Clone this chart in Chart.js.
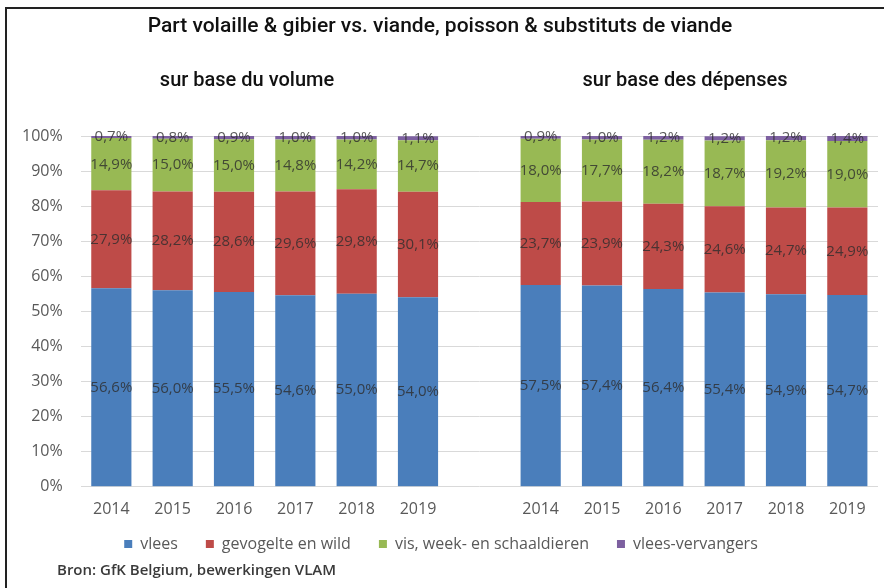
<!DOCTYPE html>
<html>
<head>
<meta charset="utf-8">
<script src="https://cdn.jsdelivr.net/npm/chart.js@4/dist/chart.umd.min.js"></script>
<style>
  html, body { margin: 0; padding: 0; background: #fff; }
  #wrap { position: relative; width: 884px; height: 588px; }
  #frame { position: absolute; left: 5px; top: 7px; right: 0; bottom: 0;
           border-top: 2px solid #222; border-left: 2px solid #222; pointer-events: none; }
  canvas { position: absolute; left: 0; top: 0; }
</style>
</head>
<body>
<div id="wrap">
  <canvas id="c" width="884" height="588"></canvas>
  <div id="frame"></div>
</div>
<script>
// ---- data ----
const categories = ['2014','2015','2016','2017','2018','2019','','2014','2015','2016','2017','2018','2019'];
const seriesNames = ['vlees', 'gevogelte en wild', 'vis, week- en schaaldieren', 'vlees-vervangers'];
const vlees       = [56.6, 56.0, 55.5, 54.6, 55.0, 54.0, null, 57.5, 57.4, 56.4, 55.4, 54.9, 54.7];
const gevogelte   = [27.9, 28.2, 28.6, 29.6, 29.8, 30.1, null, 23.7, 23.9, 24.3, 24.6, 24.7, 24.9];
const vis         = [14.9, 15.0, 15.0, 14.8, 14.2, 14.7, null, 18.0, 17.7, 18.2, 18.7, 19.2, 19.0];
const vervangers  = [0.7, 0.8, 0.9, 1.0, 1.0, 1.1, null, 0.9, 1.0, 1.2, 1.2, 1.2, 1.4];
const yTicks = [0, 10, 20, 30, 40, 50, 60, 70, 80, 90, 100];
const titleText = 'Part volaille & gibier vs. viande, poisson & substituts de viande';
const subtitleLeft = 'sur base du volume';
const subtitleRight = 'sur base des dépenses';
const sourceText = 'Bron: GfK Belgium, bewerkingen VLAM';

const colors = ['#4a7ebb', '#be4b48', '#98b954', '#7d60a0'];
const seriesData = [vlees, gevogelte, vis, vervangers];

const FONT = '"Open Sans", "DejaVu Sans", sans-serif';

const labelPlugin = {
  id: 'segLabels',
  afterDatasetsDraw(chart) {
    const ctx = chart.ctx;
    ctx.save();
    ctx.font = '15px ' + FONT;
    ctx.textAlign = 'center';
    ctx.textBaseline = 'middle';
    ctx.fillStyle = 'rgba(45,45,45,0.8)';
    chart.data.datasets.forEach((ds, di) => {
      const meta = chart.getDatasetMeta(di);
      meta.data.forEach((el, i) => {
        const v = ds.data[i];
        if (v === null || v === undefined) return;
        const y = (el.y + el.base) / 2;
        ctx.fillText(v.toFixed(1).replace('.', ',') + '%', el.x, y);
      });
    });
    ctx.restore();
  }
};

const legendShift = {
  id: 'legendShift',
  afterLayout(chart) {
    if (chart.legend) {
      chart.legend.top -= 16;
      chart.legend.bottom -= 16;
    }
  }
};

const textPlugin = {
  id: 'texts',
  afterDraw(chart) {
    const ctx = chart.ctx;
    ctx.save();
    ctx.fillStyle = '#111';
    ctx.textBaseline = 'middle';
    ctx.textAlign = 'center';
    ctx.font = '500 21px Roboto, sans-serif';
    ctx.fillText(titleText, 440, 27);
    ctx.font = '500 20px Roboto, sans-serif';
    ctx.fillText(subtitleLeft, 247, 81);
    ctx.fillText(subtitleRight, 685, 81);
    ctx.textAlign = 'left';
    ctx.font = '600 15px ' + FONT;
    ctx.fillStyle = '#3a3a3a';
    ctx.fillText(sourceText, 57, 571);
    ctx.restore();
  }
};

new Chart(document.getElementById('c'), {
  type: 'bar',
  data: {
    labels: categories,
    datasets: seriesData.map((d, i) => ({
      label: seriesNames[i],
      data: d,
      backgroundColor: colors[i],
      borderWidth: 0,
      barPercentage: 0.655,
      categoryPercentage: 1.0
    }))
  },
  options: {
    responsive: false,
    animation: false,
    devicePixelRatio: 1,
    layout: { padding: { top: 136, left: 4, right: 6, bottom: 10 } },
    scales: {
      x: {
        stacked: true,
        grid: { display: false },
        border: { display: false },
        ticks: { color: '#595959', font: { family: FONT, size: 16 }, padding: 5, maxRotation: 0, autoSkip: false }
      },
      y: {
        stacked: true,
        min: 0, max: 100,
        afterBuildTicks(axis) { axis.ticks = yTicks.map(v => ({ value: v })); },
        grid: { color: '#d9d9d9', drawTicks: false, lineWidth: 1 },
        border: { display: false },
        ticks: { color: '#595959', font: { family: FONT, size: 16 }, padding: 18,
                 callback: v => v + '%' }
      }
    },
    plugins: {
      legend: {
        position: 'bottom',
        labels: { boxWidth: 8, boxHeight: 8, padding: 28, color: '#595959',
                  font: { family: FONT, size: 16 } }
      },
      title: { display: false },
      tooltip: { enabled: false }
    }
  },
  plugins: [labelPlugin, legendShift, textPlugin]
});
</script>
</body>
</html>
